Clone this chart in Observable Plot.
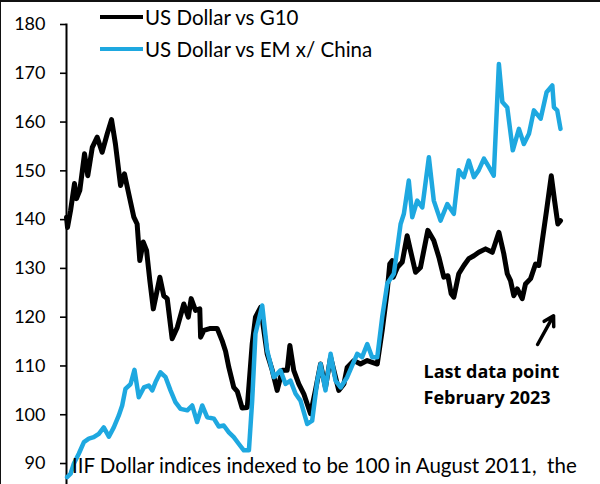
<!DOCTYPE html>
<html><head><meta charset="utf-8">
<script src="https://cdn.jsdelivr.net/npm/d3@7"></script>
<script src="https://cdn.jsdelivr.net/npm/@observablehq/plot@0.6"></script>
<style>
body{margin:0;background:#fff;font-family:Lato,sans-serif;color:#000;}
#wrap{position:relative;width:600px;height:484px;overflow:hidden;background:#fff;}
#border{position:absolute;left:0;top:0;width:600px;height:484px;border-top:2px solid #111;border-left:1px solid #111;box-sizing:border-box;pointer-events:none;}
.legend{position:absolute;left:100px;top:1px;font-size:20.5px;}
.item{display:flex;align-items:center;height:32px;}
.swatch{width:43px;height:4px;margin-right:2px;}
.caption{position:absolute;left:72px;top:453px;font-size:20.5px;white-space:pre;}
</style></head>
<body>
<div id="wrap"></div>
<script>
// ---- data (decimal years, index values) ----
const g10Dates = [1999.00,1999.05,1999.20,1999.39,1999.49,1999.65,1999.88,2000.04,2000.26,2000.50,2000.74,2000.99,2001.20,2001.39,2001.64,2001.83,2002.04,2002.29,2002.45,2002.58,2002.75,2002.91,2003.07,2003.24,2003.56,2003.75,2003.92,2004.16,2004.41,2004.73,2004.95,2005.09,2005.30,2005.51,2005.55,2005.71,2006.03,2006.36,2006.60,2006.77,2006.93,2007.17,2007.34,2007.58,2007.83,2008.07,2008.23,2008.48,2008.80,2009.05,2009.29,2009.54,2009.78,2009.91,2010.10,2010.35,2010.59,2010.92,2011.16,2011.41,2011.65,2011.90,2012.14,2012.30,2012.55,2012.71,2013.04,2013.36,2013.69,2014.18,2014.42,2014.67,2014.79,2014.91,2014.96,2015.16,2015.40,2015.64,2015.80,2016.05,2016.29,2016.65,2016.94,2017.19,2017.43,2017.63,2017.79,2017.92,2018.16,2018.41,2018.65,2018.90,2019.14,2019.47,2019.80,2020.12,2020.36,2020.53,2020.69,2020.85,2021.02,2021.26,2021.42,2021.67,2021.91,2022.07,2022.24,2022.45,2022.68,2022.84,2023.00,2023.13];
const g10Values = [140.5,138.4,141.9,147.4,144.3,146.0,153.5,149.0,154.8,156.9,153.8,157.6,160.5,155.5,147.0,149.4,145.3,140.5,139.1,131.6,135.4,133.7,127.5,121.7,128.2,124.4,123.8,115.6,117.9,122.7,120.0,123.8,121.4,121.7,115.9,117.3,117.7,117.7,115.2,113.0,109.7,105.6,104.8,101.4,101.5,114.5,120.0,122.0,112.5,109.1,105.0,109.1,109.1,114.2,109.1,106.3,104.3,100.2,105.0,110.4,105.6,111.8,107.7,105.0,106.3,109.7,111.1,110.4,111.1,110.4,117.3,125.5,130.9,131.6,128.2,130.2,131.3,136.7,133.7,129.2,130.2,137.8,135.7,132.3,128.2,128.5,124.8,124.1,128.9,130.6,132.0,132.6,133.3,134.0,133.3,137.4,133.0,128.9,127.5,124.4,125.8,123.8,126.8,127.9,130.9,130.6,135.7,141.9,149.0,143.9,139.1,139.8];

const emDates = [1999.03,1999.20,1999.36,1999.60,1999.85,2000.09,2000.33,2000.58,2000.82,2001.07,2001.31,2001.55,2001.72,2001.88,2002.13,2002.32,2002.53,2002.78,2003.02,2003.19,2003.35,2003.59,2003.84,2004.08,2004.32,2004.57,2004.90,2005.14,2005.38,2005.63,2005.87,2006.20,2006.44,2006.68,2006.93,2007.17,2007.42,2007.66,2007.91,2008.07,2008.23,2008.56,2008.80,2009.13,2009.45,2009.70,2009.94,2010.19,2010.43,2010.76,2011.00,2011.25,2011.41,2011.65,2011.90,2012.14,2012.39,2012.71,2013.20,2013.44,2013.69,2013.93,2014.18,2014.42,2014.67,2014.99,2015.32,2015.48,2015.72,2015.89,2016.13,2016.38,2016.70,2016.94,2017.27,2017.60,2017.92,2018.16,2018.41,2018.65,2018.90,2019.13,2019.39,2019.63,2019.87,2020.12,2020.29,2020.53,2020.80,2021.10,2021.34,2021.59,2021.83,2022.16,2022.45,2022.73,2022.81,2022.97,2023.13];
const emValues = [87.2,87.9,90.0,92.0,94.4,95.1,95.4,96.1,97.4,95.5,97.4,99.8,101.9,105.3,106.3,109.2,103.6,105.6,106.0,105.0,106.7,108.7,107.7,105.0,102.6,101.2,100.9,101.9,98.5,101.9,99.5,99.2,97.6,97.8,96.4,95.4,94.0,92.7,92.7,102.9,116.6,122.4,113.2,107.7,109.1,106.3,107.0,104.3,102.9,98.1,98.8,107.0,110.4,105.0,112.5,107.0,105.6,107.7,112.5,111.8,114.5,111.8,111.8,120.0,126.9,128.9,139.1,141.2,148.0,140.5,143.9,142.5,152.8,143.9,139.8,143.2,141.2,150.1,148.7,152.1,148.7,150.1,152.5,150.8,149.0,171.9,164.1,163.0,154.2,158.6,155.5,157.6,162.4,160.7,166.1,167.5,163.0,162.4,158.6];

const yTicks = [90,100,110,120,130,140,150,160,170,180];
const seriesNames = ["US Dollar vs G10", "US Dollar vs EM x/ China"];
const seriesColors = ["#000000", "#1ea8e0"];
const noteLines = ["Last data point", "February 2023"];
const noteAnchor = [{x: 2016.44, y: 106.6}];
const arrowData = [{x1: 2022.01, y1: 114.4, x2: 2022.79, y2: 120.3}];
const captionText = "IIF Dollar indices indexed to be 100 in August 2011,  the";

const g10 = g10Dates.map((d, i) => ({date: d, value: g10Values[i]}));
const em = emDates.map((d, i) => ({date: d, value: emValues[i]}));

const plot = Plot.plot({
  width: 600, height: 484,
  marginLeft: 66, marginRight: 40, marginTop: 24, marginBottom: 0,
  style: {fontFamily: "Lato, sans-serif", fontSize: "18px", color: "#000", background: "transparent", overflow: "visible"},
  x: {type: "linear", domain: [1999, 2023.13], axis: null},
  y: {domain: [85.7, 180], axis: null},
  marks: [
    Plot.axisY({ticks: yTicks, tickSize: 6, tickPadding: 15, tickFormat: d => String(d), strokeWidth: 1.6}),
    Plot.frame({anchor: "left", strokeWidth: 2}),
    Plot.line(g10, {x: "date", y: "value", stroke: seriesColors[0], strokeWidth: 5, strokeLinejoin: "round", curve: "linear"}),
    Plot.line(em, {x: "date", y: "value", stroke: seriesColors[1], strokeWidth: 4.5, strokeLinejoin: "round", curve: "linear"}),
    Plot.arrow(arrowData, {x1: "x1", y1: "y1", x2: "x2", y2: "y2", strokeWidth: 3.5, headLength: 10, stroke: "#000"}),
    Plot.text(noteAnchor, {x: "x", y: "y", text: () => noteLines.join("\n"), textAnchor: "start", lineHeight: 1.45, fontWeight: "bold", fontSize: 18, fontFamily: "'Open Sans', sans-serif", fill: "#000"})
  ]
});

const wrap = document.getElementById("wrap");
wrap.appendChild(plot);
plot.style.position = "absolute"; plot.style.left = "0"; plot.style.top = "0";

const legend = document.createElement("div");
legend.className = "legend";
seriesNames.forEach((name, i) => {
  const item = document.createElement("div");
  item.className = "item";
  const sw = document.createElement("div");
  sw.className = "swatch";
  sw.style.background = seriesColors[i];
  const t = document.createElement("span");
  t.textContent = name;
  item.appendChild(sw); item.appendChild(t);
  legend.appendChild(item);
});
wrap.appendChild(legend);

const cap = document.createElement("div");
cap.className = "caption";
cap.textContent = captionText;
wrap.appendChild(cap);

const border = document.createElement("div");
border.id = "border";
wrap.appendChild(border);
</script>
</body></html>
